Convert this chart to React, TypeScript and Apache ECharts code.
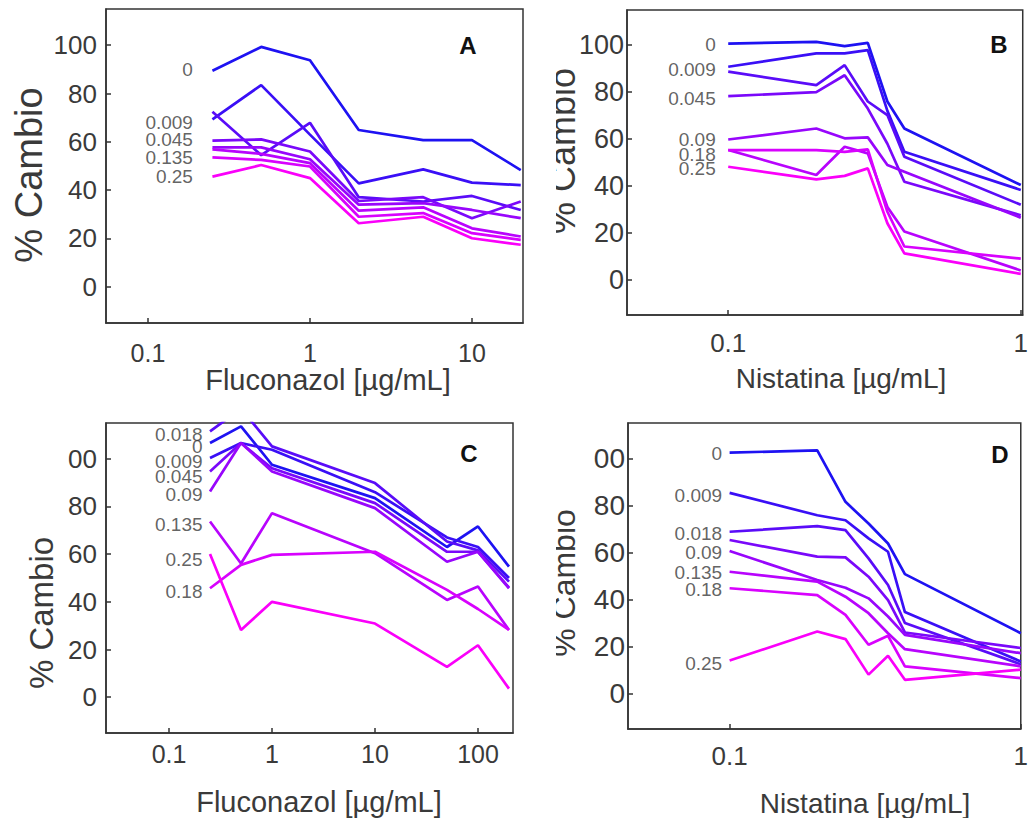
import React, { useEffect, useRef } from 'react';
import * as echarts from 'echarts';

// ---- shared ----
const concentrations = ['0', '0.009', '0.018', '0.045', '0.09', '0.135', '0.18', '0.25'];
const seriesColors = ['#1e12f2', '#3a0ff6', '#5a0cf8', '#7a08fa', '#9806fc', '#b804fd', '#d802fe', '#fa00fa'];
const yTicks = [0, 20, 40, 60, 80, 100];
const yTickLabelsTop = ['0', '20', '40', '60', '80', '100'];
const yTickLabelsBottom = ['0', '20', '40', '60', '80', '00'];

// ---- Panel A : Fluconazol ----
const xA = [0.25, 0.5, 1, 2, 5, 10, 20];
const xTicksA = [0.1, 1, 10];
const valuesA = [
  [89.4, 99.3, 93.8, 64.9, 60.7, 60.7, 48.3],
  [69.3, 83.5, 63.0, 42.8, 48.6, 43.1, 42.1],
  [72.5, 54.5, 67.9, 37.1, 35.3, 37.6, 31.8],
  [60.5, 61.0, 56.0, 35.5, 37.1, 28.4, 35.3],
  [57.7, 57.7, 52.8, 34.0, 34.6, 31.8, 28.4],
  [56.9, 55.0, 51.2, 31.5, 32.9, 24.2, 20.8],
  [53.6, 52.5, 49.8, 29.0, 30.5, 22.2, 19.4],
  [45.6, 50.4, 45.0, 26.3, 29.0, 20.1, 17.4],
];
const labelTextA = ['0', '0.009', '0.045', '0.135', '0.25'];
const labelValueA = [89.8, 67.9, 61.0, 53.4, 45.6];

// ---- Panel B : Nistatina ----
const xB = [0.1, 0.2, 0.25, 0.3, 0.35, 0.4, 1];
const xTicksB = [0.1, 1];
const valuesB = [
  [100.7, 101.4, 99.6, 101.0, 76.0, 64.5, 40.4],
  [90.8, 96.5, 96.5, 97.9, 72.0, 54.6, 38.3],
  [88.7, 83.0, 91.5, 76.0, 70.2, 52.5, 32.0],
  [78.3, 80.0, 87.2, 73.0, 58.0, 41.8, 27.5],
  [59.8, 64.5, 60.3, 60.7, 48.9, 46.1, 26.5],
  [55.3, 44.7, 56.7, 53.9, 31.0, 20.6, 4.0],
  [55.3, 55.3, 54.5, 55.6, 29.0, 14.2, 9.0],
  [48.2, 42.8, 44.3, 47.5, 24.1, 11.3, 2.5],
];
const labelTextB = ['0', '0.009', '0.045', '0.09', '0.18', '0.25'];
const labelValueB = [100.3, 89.6, 77.3, 59.6, 53.6, 47.5];

// ---- Panel C : Fluconazol ----
const xC = [0.25, 0.5, 1, 10, 50, 100, 200];
const xTicksC = [0.1, 1, 10, 100];
const valuesC = [
  [106.6, 113.6, 97.5, 83.5, 63.0, 71.6, 54.8],
  [100.3, 106.6, 103.8, 86.0, 67.0, 63.0, 50.0],
  [111.5, 121.0, 105.2, 89.8, 65.3, 61.6, 48.5],
  [94.7, 106.6, 96.0, 81.4, 61.0, 61.0, 46.0],
  [86.3, 106.6, 94.7, 79.3, 56.8, 61.0, 45.7],
  [73.7, 56.1, 77.2, 60.4, 40.8, 46.4, 28.2],
  [45.7, 55.5, 59.7, 61.0, 45.0, 37.0, 28.2],
  [60.1, 28.2, 40.0, 30.9, 12.7, 21.8, 3.6],
];
const labelTextC = ['0.018', '0', '0.009', '0.045', '0.09', '0.135', '0.25', '0.18'];
const labelValueC = [110.0, 105.2, 98.9, 92.6, 84.9, 72.3, 57.9, 44.2];

// ---- Panel D : Nistatina ----
const xD = [0.1, 0.2, 0.25, 0.3, 0.35, 0.4, 1];
const xTicksD = [0.1, 1];
const valuesD = [
  [102.4, 103.4, 81.5, 72.3, 63.8, 50.8, 25.7],
  [85.3, 75.8, 73.7, 66.0, 60.3, 34.7, 13.7],
  [68.8, 71.2, 69.5, 57.5, 46.2, 30.0, 12.5],
  [65.3, 58.2, 57.9, 49.7, 39.8, 26.0, 19.4],
  [60.6, 48.3, 45.0, 40.5, 32.8, 25.0, 17.2],
  [51.8, 47.6, 41.2, 34.2, 25.7, 18.9, 11.6],
  [44.8, 41.9, 33.5, 20.8, 24.6, 11.6, 6.6],
  [14.1, 26.4, 23.2, 8.1, 16.1, 5.9, 10.2],
];
const labelTextD = ['0', '0.009', '0.018', '0.09', '0.135', '0.18', '0.25'];
const labelValueD = [102.0, 84.3, 68.0, 59.9, 51.4, 44.4, 13.0];

const FONT = 'Liberation Sans, Arial, Helvetica, sans-serif';
const TXT = '#3a3a3a';
const AX = '#333333';

type PanelCfg = {
  xs: number[];
  values: number[][];
  labels: string[];
  labelValues: number[];
  xTicks: number[];
  yLabels: string[];
  grid: { left: number; top: number; width: number; height: number };
  xMin: number;
  xMax: number;
  gap: number;
  yFont: number;
  yMargin: number;
  xFont: number;
  xMargin: number;
};

const panels: PanelCfg[] = [
  {
    xs: xA, values: valuesA, labels: labelTextA, labelValues: labelValueA, xTicks: xTicksA,
    yLabels: yTickLabelsTop, grid: { left: 106, top: 9, width: 417, height: 314 },
    xMin: -1.259, xMax: 1.315, gap: 19, yFont: 26, yMargin: 9, xFont: 25, xMargin: 17,
  },
  {
    xs: xB, values: valuesB, labels: labelTextB, labelValues: labelValueB, xTicks: xTicksB,
    yLabels: yTickLabelsTop, grid: { left: 627, top: 10, width: 403, height: 305 },
    xMin: -1.346, xMax: 0.0067, gap: 12, yFont: 27, yMargin: 3, xFont: 26, xMargin: 15,
  },
  {
    xs: xC, values: valuesC, labels: labelTextC, labelValues: labelValueC, xTicks: xTicksC,
    yLabels: yTickLabelsBottom, grid: { left: 106, top: 423, width: 407, height: 310 },
    xMin: -1.612, xMax: 2.34, gap: 7, yFont: 26, yMargin: 9, xFont: 25, xMargin: 8,
  },
  {
    xs: xD, values: valuesD, labels: labelTextD, labelValues: labelValueD, xTicks: xTicksD,
    yLabels: yTickLabelsBottom, grid: { left: 628, top: 423, width: 402, height: 306 },
    xMin: -1.349, xMax: 0, gap: 7, yFont: 28, yMargin: 3, xFont: 26, xMargin: 14,
  },
];

function fmtTick(v: number): string {
  const raw = Math.pow(10, v);
  return String(Number(raw.toPrecision(3)));
}

function buildOption() {
  const grid: any[] = [];
  const xAxis: any[] = [];
  const yAxis: any[] = [];
  const series: any[] = [];

  panels.forEach((p, idx) => {
    grid.push({
      ...p.grid,
      show: true,
      borderColor: AX,
      borderWidth: 1.5,
      backgroundColor: 'transparent',
      containLabel: false,
    });
    const xCustom = p.xTicks.map((t) => Math.log10(t));
    xAxis.push({
      type: 'value',
      gridIndex: idx,
      min: p.xMin,
      max: p.xMax,
      axisLine: { show: true, onZero: false, lineStyle: { color: AX, width: 1.5 } },
      axisTick: { show: true, inside: true, length: 5, customValues: xCustom, lineStyle: { color: AX, width: 1.5 } },
      axisLabel: {
        show: true,
        customValues: xCustom,
        formatter: (v: number) => fmtTick(v),
        margin: p.xMargin,
        fontSize: p.xFont,
        color: TXT,
        fontFamily: FONT,
      },
      splitLine: { show: false },
    });
    yAxis.push({
      type: 'value',
      gridIndex: idx,
      min: -15,
      max: 115,
      axisLine: { show: true, onZero: false, lineStyle: { color: AX, width: 1.5 } },
      axisTick: { show: true, inside: true, length: 5, customValues: yTicks, lineStyle: { color: AX, width: 1.5 } },
      axisLabel: {
        show: true,
        customValues: yTicks,
        formatter: (v: number) => {
          const i = yTicks.indexOf(Math.round(v));
          return i >= 0 ? p.yLabels[i] : '';
        },
        margin: p.yMargin,
        fontSize: p.yFont,
        color: TXT,
        fontFamily: FONT,
      },
      splitLine: { show: false },
    });

    p.values.forEach((vals, i) => {
      series.push({
        type: 'line',
        name: `${concentrations[i]}-${idx}`,
        xAxisIndex: idx,
        yAxisIndex: idx,
        data: p.xs.map((x, j) => [Math.log10(x), vals[j]]),
        symbol: 'none',
        showSymbol: false,
        clip: true,
        lineStyle: { color: seriesColors[i], width: 2.7 },
        itemStyle: { color: seriesColors[i] },
        silent: true,
        z: 3,
      });
    });

    series.push({
      type: 'scatter',
      xAxisIndex: idx,
      yAxisIndex: idx,
      symbolSize: 1,
      clip: false,
      silent: true,
      itemStyle: { color: 'rgba(0,0,0,0)' },
      data: p.labels.map((t, i) => ({ name: t, value: [Math.log10(p.xs[0]), p.labelValues[i]] })),
      label: {
        show: true,
        position: 'left',
        distance: p.gap,
        formatter: (q: any) => q.name,
        color: TXT,
        fontSize: 19,
        fontFamily: FONT,
      },
      z: 4,
    });
  });

  const txt = (text: string, x: number, y: number, size: number, opts: any = {}) => ({
    type: 'text',
    x,
    y,
    rotation: opts.rotation || 0,
    z: opts.z || 10,
    silent: true,
    style: {
      text,
      font: `${opts.bold ? 'bold ' : ''}${size}px ${FONT}`,
      fill: opts.fill || TXT,
      textAlign: 'center',
      textVerticalAlign: 'middle',
    },
  });

  const graphic: any[] = [
    // y titles of right panels (partly hidden by the sub-figure crop)
    txt('% Cambio', 562, 151, 36, { rotation: Math.PI / 2, z: 5 }),
    txt('% Cambio', 564, 583, 32, { rotation: Math.PI / 2, z: 5 }),
    {
      type: 'rect',
      z: 20,
      silent: true,
      shape: { x: 525, y: 0, width: 31, height: 818 },
      style: { fill: '#ffffff' },
    },
    // y titles of left panels
    txt('% Cambio', 29, 175, 38, { rotation: Math.PI / 2 }),
    txt('% Cambio', 41, 613, 33, { rotation: Math.PI / 2 }),
    // x titles
    txt('Fluconazol [µg/mL]', 328, 380, 29),
    txt('Nistatina [µg/mL]', 841, 378, 28),
    txt('Fluconazol [µg/mL]', 319, 802, 29),
    txt('Nistatina [µg/mL]', 865, 803, 28),
    // panel letters
    txt('A', 468, 45, 24, { bold: true, fill: '#111' }),
    txt('B', 999, 44, 24, { bold: true, fill: '#111' }),
    txt('C', 469, 453, 24, { bold: true, fill: '#111' }),
    txt('D', 1000, 454, 24, { bold: true, fill: '#111' }),
  ];

  return {
    animation: false,
    backgroundColor: '#ffffff',
    grid,
    xAxis,
    yAxis,
    series,
    graphic,
  };
}

export default function App() {
  const ref = useRef<HTMLDivElement>(null);
  useEffect(() => {
    if (!ref.current) return;
    const chart = echarts.init(ref.current, undefined, { renderer: 'svg' });
    chart.setOption(buildOption() as any);
    return () => {
      chart.dispose();
    };
  }, []);
  return (
    <div
      ref={ref}
      style={{ position: 'absolute', left: 0, top: 0, width: 1031, height: 818, background: '#fff' }}
    />
  );
}
